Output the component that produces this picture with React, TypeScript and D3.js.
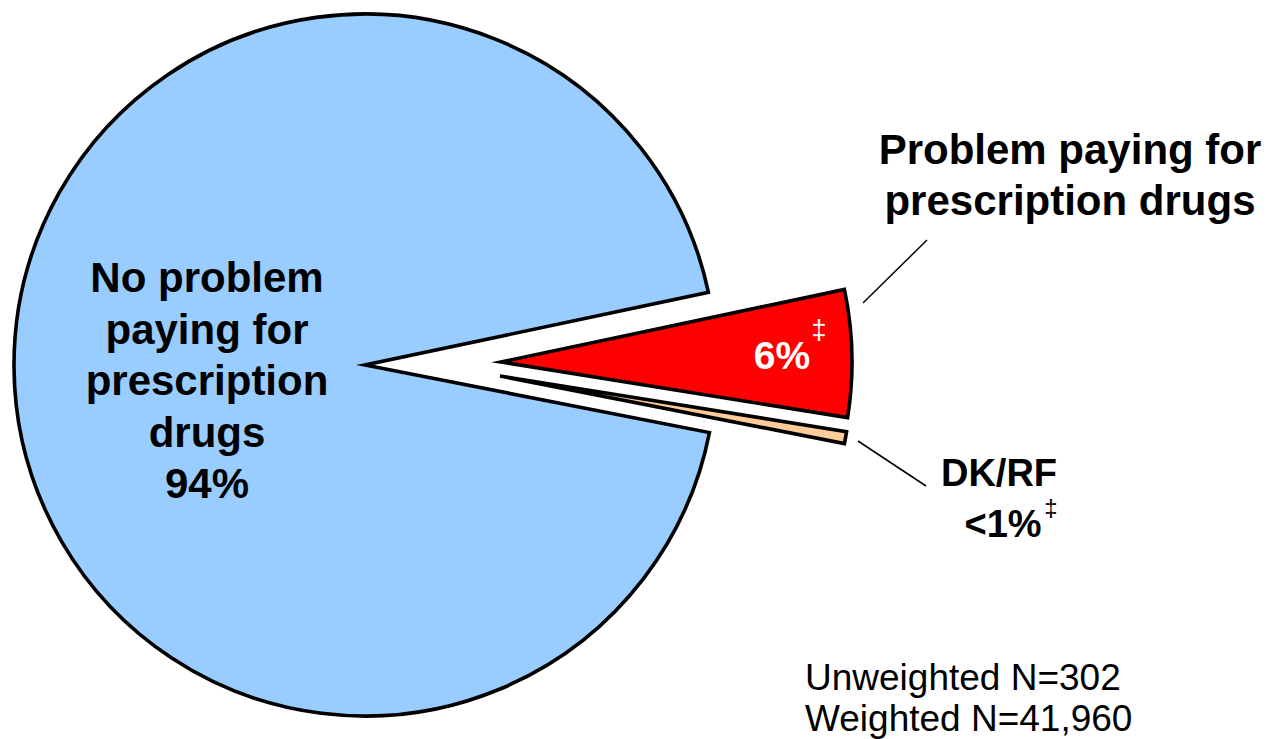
import React from "react";
import * as d3 from "d3";

const categories = ["No problem paying for prescription drugs", "Problem paying for prescription drugs", "DK/RF"];
const values = [93.6, 5.85, 0.55];
const colors = ["#99CCFF", "#FF0000", "#FFCC99"];
const mainLabelLines = ["No problem", "paying for", "prescription", "drugs", "94%"];
const problemLabelLines = ["Problem paying for", "prescription drugs"];
const problemPct = "6%";
const dkLabelLines = ["DK/RF", "<1%"];
const footnotes = ["Unweighted N=302", "Weighted N=41,960"];

const W = 1268;
const H = 739;
const cx = 365;
const cy = 365;
const R = 351;
const startDeg = 101.1;
// explode offsets per slice (style)
const offsets = [
  { dx: 0, dy: 0 },
  { dx: 136, dy: -3 },
  { dx: 135, dy: 11 },
];

export default function App() {
  const pie = d3
    .pie<number>()
    .sort(null)
    .value((d) => d)
    .startAngle((startDeg * Math.PI) / 180)
    .endAngle((startDeg * Math.PI) / 180 + 2 * Math.PI);
  const arcs = pie(values);
  const arc = d3.arc<d3.PieArcDatum<number>>().innerRadius(0).outerRadius(R);
  const font = "'Liberation Sans', Arial, Helvetica, sans-serif";

  return (
    <svg
      width={W}
      height={H}
      style={{ position: "absolute", left: 0, top: 0, background: "#fff" }}
      fontFamily={font}
    >
      {arcs.map((a, i) => (
        <path
          key={categories[i]}
          d={arc(a) || ""}
          transform={`translate(${cx + offsets[i].dx},${cy + offsets[i].dy})`}
          fill={colors[i]}
          stroke="#000"
          strokeWidth={3.6}
          strokeLinejoin="miter"
          strokeMiterlimit={20}
        />
      ))}
      {/* main label */}
      <text textAnchor="middle" fontWeight="bold" fontSize={42} fill="#000">
        {mainLabelLines.map((l, i) => (
          <tspan key={i} x={207} y={292 + i * 51.5}>
            {l}
          </tspan>
        ))}
      </text>
      {/* problem label */}
      <text textAnchor="middle" fontWeight="bold" fontSize={42} fill="#000">
        {problemLabelLines.map((l, i) => (
          <tspan key={i} x={1070} y={164 + i * 51}>
            {l}
          </tspan>
        ))}
      </text>
      <line x1={863} y1={303} x2={927} y2={240} stroke="#000" strokeWidth={1.5} />
      {/* 6% */}
      <text x={782} y={369} textAnchor="middle" fontWeight="bold" fontSize={39} fill="#fff">
        {problemPct}
      </text>
      <text x={819} y={339} textAnchor="middle" fontSize={27} fill="#fff">
        ‡
      </text>
      {/* DK label */}
      <line x1={858} y1={441} x2={926} y2={486} stroke="#000" strokeWidth={1.5} />
      <text textAnchor="middle" fontWeight="bold" fontSize={38} fill="#000">
        {dkLabelLines.map((l, i) => (
          <tspan key={i} x={i === 0 ? 999 : 1003} y={486 + i * 51}>
            {l}
          </tspan>
        ))}
      </text>
      <text x={1051} y={516} textAnchor="middle" fontSize={24} fill="#000">
        ‡
      </text>
      {/* footnotes */}
      <text fontSize={37} fill="#000">
        {footnotes.map((l, i) => (
          <tspan key={i} x={805} y={690 + i * 41}>
            {l}
          </tspan>
        ))}
      </text>
    </svg>
  );
}
